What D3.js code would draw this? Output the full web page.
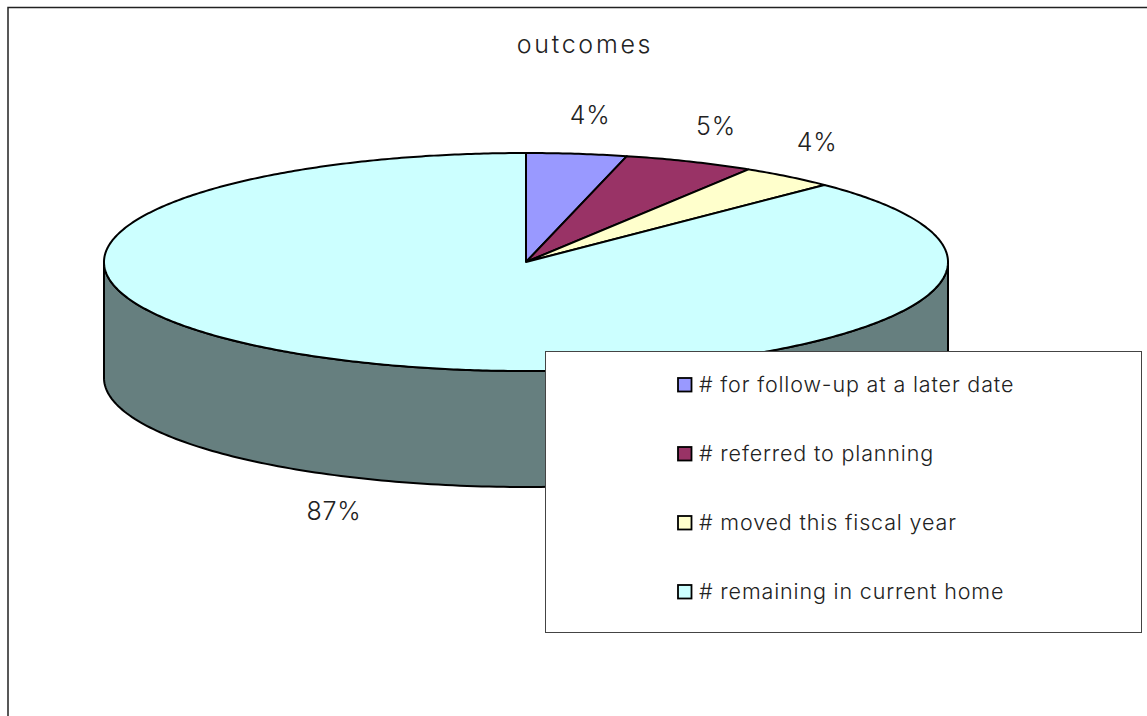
<!DOCTYPE html>
<html><head><meta charset="utf-8">
<script src="https://cdn.jsdelivr.net/npm/d3@7"></script>
<style>html,body{margin:0;padding:0;background:#fff}svg{display:block}text{font-family:"Inter","Lato",sans-serif;fill:#222;font-weight:300}</style>
</head><body><svg id="c" width="1147" height="716"></svg>
<script>
const chartTitle = "outcomes";
const categories = ["# for follow-up at a later date","# referred to planning","# moved this fiscal year","# remaining in current home"];
const values = [3.84,5.0,3.66,87.5];
const valueLabels = ["4%","5%","4%","87%"];
const colors = ["#9999ff","#993366","#ffffcc","#ccffff"];

const svg = d3.select("#c");
const cx=526, cy=262, rx=422, ry=109, depth=116;
const wallColor="#667f7f";

svg.append("path").attr("d","M8,716V7.5H1147").attr("fill","none").attr("stroke","#222").attr("stroke-width",1.5);

const arcs = d3.pie().sort(null).value(d=>d)(values);
const px = d3.scaleLinear().domain([-1,1]).range([cx-rx,cx+rx]);
const py = d3.scaleLinear().domain([-1,1]).range([cy-ry,cy+ry]);

const frontAngles = d3.range(90,270.5,1).map(a=>a*Math.PI/180);
const wall = d3.area()
  .x(a=>px(Math.sin(a)))
  .y0(a=>py(-Math.cos(a)))
  .y1(a=>py(-Math.cos(a))+depth);
svg.append("path").datum(frontAngles).attr("d",wall)
  .attr("fill",wallColor).attr("stroke","#000").attr("stroke-width",2);

const ringPts = (a0,a1)=>{
  const n=Math.max(2,Math.ceil((a1-a0)/0.01));
  return d3.range(n+1).map(i=>a0+(a1-a0)*i/n);
};
const line = d3.line().x(d=>d[0]).y(d=>d[1]);
svg.selectAll("path.slice").data(arcs).enter().append("path").attr("class","slice")
  .attr("d",d=>line([[px(0),py(0)],...ringPts(d.startAngle,d.endAngle).map(a=>[px(Math.sin(a)),py(-Math.cos(a))])])+"Z")
  .attr("fill",(d,i)=>colors[i]).attr("stroke","#000").attr("stroke-width",2).attr("stroke-linejoin","round");

svg.append("text").attr("x",585).attr("y",53).attr("text-anchor","middle").attr("font-size",25).attr("letter-spacing",2.7).text(chartTitle);
const labelOffset = [[64,-138],[190,-127],[291,-111],[-192,258]];
svg.selectAll("text.lab").data(valueLabels).enter().append("text").attr("class","lab")
  .attr("x",(d,i)=>cx+labelOffset[i][0]).attr("y",(d,i)=>cy+labelOffset[i][1])
  .attr("text-anchor","middle").attr("font-size",25).attr("letter-spacing",0.8).text(d=>d);

svg.append("rect").attr("x",545.5).attr("y",351.5).attr("width",596).attr("height",281)
  .attr("fill","#fff").attr("stroke","#444").attr("stroke-width",1);
const ly = d3.scalePoint().domain(categories).range([385,592]);
const g = svg.selectAll("g.leg").data(categories).enter().append("g").attr("class","leg")
  .attr("transform",d=>`translate(0,${ly(d)})`);
g.append("rect").attr("x",678).attr("y",-7).attr("width",13.5).attr("height",13.5)
  .attr("fill",(d,i)=>colors[i]).attr("stroke","#000").attr("stroke-width",1.8);
g.append("text").attr("x",699).attr("y",7).attr("font-size",21.5).attr("letter-spacing",0.85).text(d=>d);
</script></body></html>
